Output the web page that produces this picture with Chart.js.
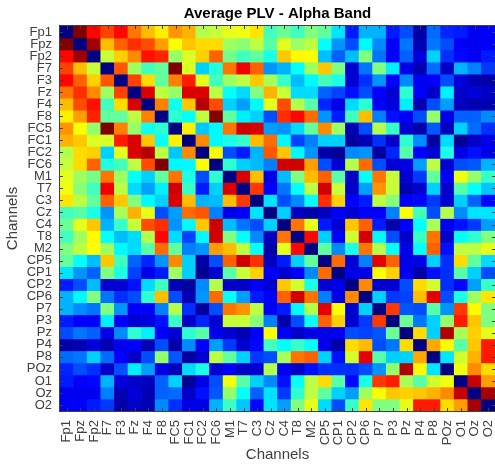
<!DOCTYPE html>
<html>
<head>
<meta charset="utf-8">
<style>
  html, body { margin: 0; padding: 0; background: #fff; overflow: hidden; }
  #wrap { position: relative; width: 495px; height: 469px; }
</style>
<script src="https://cdn.jsdelivr.net/npm/chart.js@4/dist/chart.umd.min.js"></script>
</head>
<body>
<div id="wrap"><canvas id="plvChart"></canvas></div>
<script>
const channels = ['Fp1', 'Fpz', 'Fp2', 'F7', 'F3', 'Fz', 'F4', 'F8', 'FC5', 'FC1', 'FC2', 'FC6', 'M1', 'T7', 'C3', 'Cz',
  'C4', 'T8', 'M2', 'CP5', 'CP1', 'CP2', 'CP6', 'P7', 'P3', 'Pz', 'P4', 'P8', 'POz', 'O1', 'Oz', 'O2'];

// Upper triangle of the symmetric matrix, each row starts just after the diagonal
const plvUpper = [
  [1.0, .87, .81, .87, .76, .69, .64, .73, .70, .55, .57, .6, .61, .65, .44, .48, .44, .5, .47, .35, .15, .3, .3, .15, .2, .04, .23, .16, .15, .11, .12],
  [.97, .69, .78, .83, .80, .72, .62, .68, .66, .66, .53, .51, .56, .46, .6, .53, .56, .38, .27, .2, .37, .26, .12, .24, .05, .24, .2, .12, .11, .12],
  [.57, .67, .74, .86, .84, .52, .59, .67, .78, .49, .44, .47, .40, .68, .63, .62, .31, .22, .31, .5, .24, .12, .22, .09, .33, .17, .13, .11, .15],
  [.79, .53, .44, .47, 1.0, .59, .33, .41, .76, .89, .78, .27, .3, .38, .53, .68, .5, .08, .24, .5, .36, .1, .05, .23, .07, .3, .25, .18],
  [.81, .66, .47, .75, .85, .60, .44, .53, .56, .68, .54, .43, .31, .37, .44, .4, .08, .17, .27, .12, .26, .11, .12, .2, .09, .05, .04],
  [.91, .56, .52, .91, .91, .56, .38, .34, .5, .7, .57, .34, .34, .22, .19, .14, .2, .12, .08, .42, .12, .07, .36, .07, .09, .07],
  [.75, .39, .68, .95, .8, .33, .28, .37, .6, .8, .55, .46, .16, .1, .34, .42, .12, .09, .36, .05, .2, .28, .06, .05, .05],
  [.42, .38, .56, 1.0, .47, .36, .33, .2, .83, .87, .77, .27, .15, .44, .69, .25, .14, .12, .2, .52, .1, .22, .22, .26],
  [.64, .32, .37, .76, .92, .91, .28, .27, .34, .47, .74, .53, .05, .2, .55, .43, .08, .04, .21, .06, .33, .23, .17],
  [.74, .37, .4, .43, .69, .77, .37, .19, .25, .33, .33, .03, .05, .17, .07, .42, .26, .03, .34, .02, .07, .1],
  [.62, .2, .15, .3, .79, .68, .37, .27, .04, .02, .26, .27, .03, .16, .46, .12, .08, .4, .1, .14, .1],
  [.42, .33, .31, .25, .92, .92, .72, .2, .08, .55, .77, .2, .08, .1, .28, .56, .08, .2, .21, .3],
  [.91, .69, .1, .31, .5, .69, .78, .46, .07, .38, .76, .57, .08, .18, .47, .12, .61, .52, .43],
  [.82, .12, .24, .38, .56, .92, .57, .07, .28, .73, .57, .05, .08, .33, .07, .46, .38, .32],
  [.35, .2, .26, .38, .83, .67, .12, .15, .56, .51, .12, .13, .18, .08, .33, .22, .13],
  [.33, .06, .04, .06, .12, .08, .12, .12, .25, .62, .44, .2, .55, .26, .35, .35],
  [.76, .6, .15, .08, .68, .78, .15, .04, .12, .38, .54, .11, .14, .18, .28],
  [.87, .33, .12, .58, .92, .37, .2, .07, .43, .76, .07, .38, .42, .5],
  [.47, .26, .4, .76, .55, .38, .1, .38, .78, .14, .56, .56, .6],
  [.77, .08, .25, .9, .78, .1, .1, .33, .17, .66, .47, .34],
  [.1, .1, .62, .67, .11, .04, .14, .17, .46, .33, .2],
  [.74, .08, .08, .2, .66, .58, .17, .13, .28, .43],
  [.33, .18, .19, .69, .9, .2, .4, .53, .65],
  [.82, .21, .2, .46, .27, .82, .63, .5],
  [.48, .24, .33, .52, .85, .68, .5],
  [.66, .33, .95, .54, .67, .6],
  [.71, .63, .46, .68, .85],
  [.35, .58, .7, .85],
  [.61, .74, .66],
  [.93, .72],
  [.96]
];

function plvAt(row, col) {
  if (row === col) return 0;
  const a = Math.min(row, col), b = Math.max(row, col);
  return plvUpper[a][b - a - 1];
}

// Same as the MATLAB jet colormap
function jet(v) {
  const c = x => Math.round(255 * Math.max(0, Math.min(1, 1.5 - Math.abs(4 * v - x))));
  return `rgb(${c(3)}, ${c(2)}, ${c(1)})`;
}

const textColor = '#404040';
const fontFamily = '"Liberation Sans", Arial, sans-serif';

// One floating bar dataset per row of the heatmap
const datasets = channels.map((name, row) => ({
  label: name,
  data: channels.map(() => [row, row + 1]),
  backgroundColor: channels.map((c, col) => jet(plvAt(row, col))),
  borderWidth: 0,
  barPercentage: 1,
  categoryPercentage: 1,
  grouped: false
}));

// Box round the plot with short inward ticks on all sides
const axesBox = {
  id: 'axesBox',
  afterDatasetsDraw(chart) {
    const { ctx, chartArea: a, scales } = chart;
    const tick = 3;
    ctx.save();
    ctx.strokeStyle = '#404040';
    ctx.lineWidth = 1;
    ctx.beginPath();
    scales.x.ticks.forEach((t, i) => {
      const x = Math.round(scales.x.getPixelForTick(i)) + 0.5;
      ctx.moveTo(x, a.top); ctx.lineTo(x, a.top + tick);
      ctx.moveTo(x, a.bottom); ctx.lineTo(x, a.bottom - tick);
    });
    scales.y.ticks.forEach((t, i) => {
      const y = Math.round(scales.y.getPixelForTick(i)) + 0.5;
      ctx.moveTo(a.left, y); ctx.lineTo(a.left + tick, y);
      ctx.moveTo(a.right, y); ctx.lineTo(a.right - tick, y);
    });
    ctx.stroke();
    ctx.strokeRect(a.left - 0.5, a.top - 0.5, a.right - a.left + 1, a.bottom - a.top + 1);
    ctx.restore();
  }
};

new Chart(document.getElementById('plvChart'), {
  type: 'bar',
  data: { labels: channels, datasets },
  plugins: [axesBox],
  options: {
    responsive: true,
    maintainAspectRatio: false,
    animation: false,
    layout: { padding: 0, autoPadding: false },
    plugins: {
      legend: { display: false },
      tooltip: { enabled: false },
      title: {
        display: true,
        text: 'Average PLV - Alpha Band',
        fullSize: false,
        color: '#000',
        font: { family: fontFamily, size: 15, weight: 'bold', lineHeight: 1.2 },
        padding: { top: 5, bottom: 3 }
      }
    },
    scales: {
      x: {
        type: 'category',
        grid: { display: false },
        border: { display: false },
        afterFit(scale) {
          scale.height = 58;
          scale.paddingLeft = 0;
          scale.paddingRight = 0;
        },
        ticks: {
          color: textColor,
          autoSkip: false,
          minRotation: 90,
          maxRotation: 90,
          padding: 1,
          font: { family: fontFamily, size: 13 }
        },
        title: {
          display: true,
          text: 'Channels',
          color: textColor,
          font: { family: fontFamily, size: 15 },
          padding: { top: 0, bottom: 5 }
        }
      },
      y: {
        type: 'linear',
        min: 0,
        max: channels.length,
        reverse: true,
        grid: { display: false },
        border: { display: false },
        afterFit(scale) {
          scale.width = 60;
          scale.paddingTop = 0;
          scale.paddingBottom = 0;
        },
        afterBuildTicks(scale) {
          scale.ticks = channels.map((c, i) => ({ value: i + 0.5 }));
        },
        ticks: {
          color: textColor,
          autoSkip: false,
          padding: 0,
          font: { family: fontFamily, size: 13 },
          callback: value => channels[Math.floor(value)]
        },
        title: {
          display: true,
          text: 'Channels',
          color: textColor,
          font: { family: fontFamily, size: 15 },
          padding: { top: 4, bottom: 0 }
        }
      }
    }
  }
});
</script>
</body>
</html>
